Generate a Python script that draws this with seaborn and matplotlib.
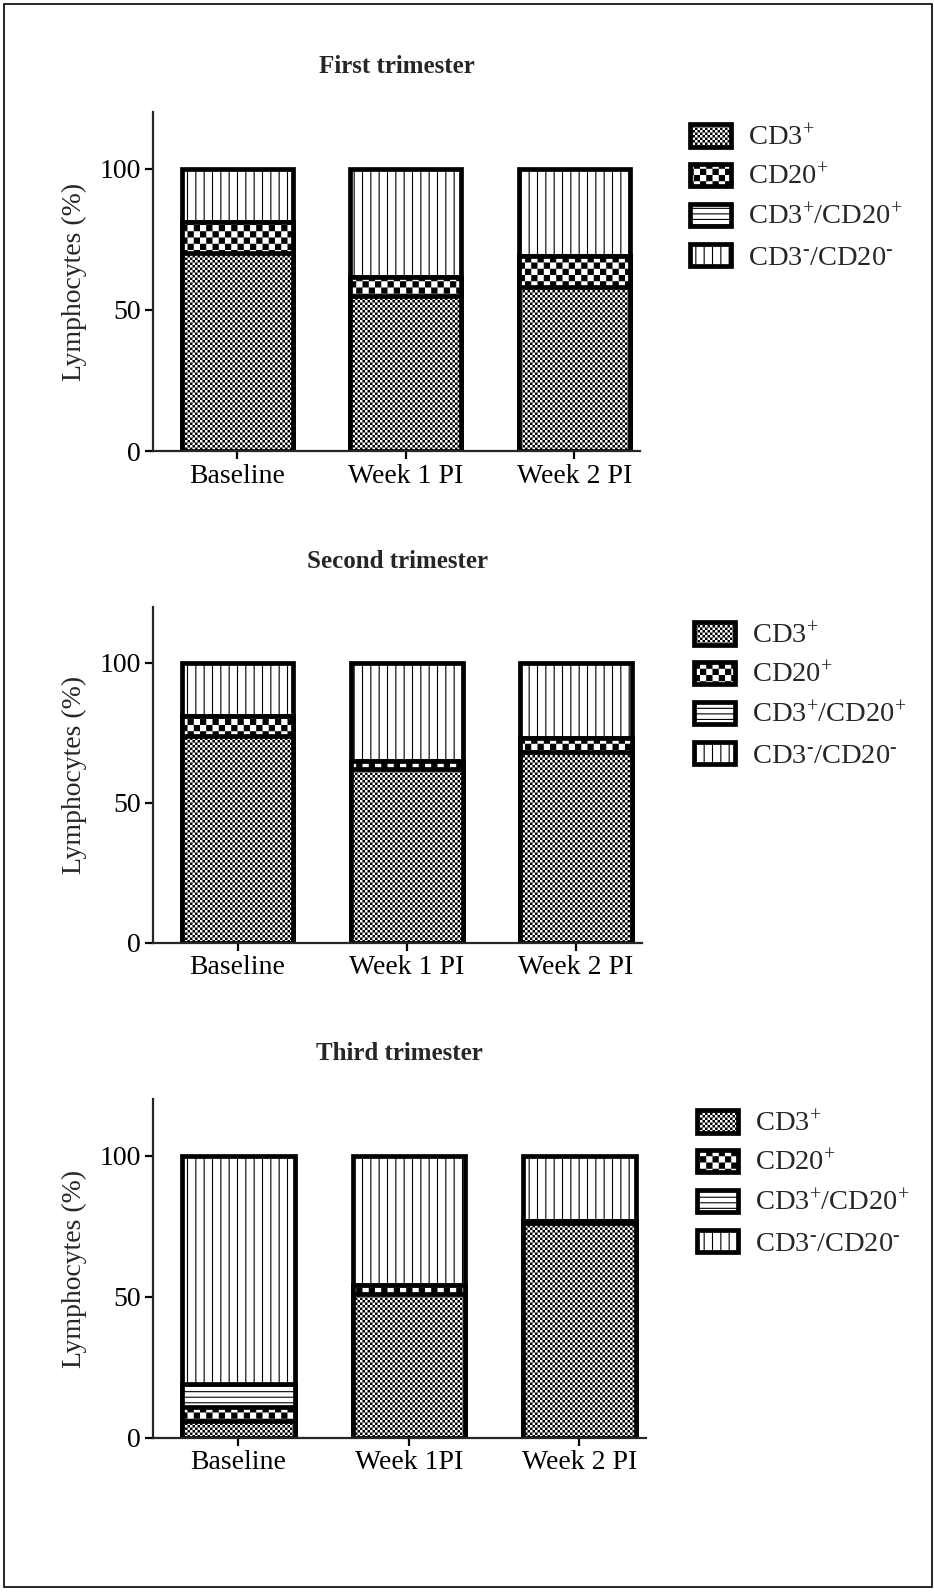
import numpy as np
import matplotlib
matplotlib.use("Agg")
import matplotlib.pyplot as plt
import matplotlib.hatch as mhatch
from matplotlib.path import Path
from matplotlib.patches import Patch, Rectangle
import seaborn as sns

# ---------------------------------------------------------------- data
panel_titles = ["First trimester", "Second trimester", "Third trimester"]
time_labels_1 = ["Baseline", "Week 1 PI", "Week 2 PI"]
time_labels_2 = ["Baseline", "Week 1 PI", "Week 2 PI"]
time_labels_3 = ["Baseline", "Week 1PI", "Week 2 PI"]

# lymphocyte subsets (% of lymphocytes)
cd3_first = [70, 55, 58]
cd20_first = [11, 6.5, 11]
dp_first = [0, 0, 0]
dn_first = [19, 38.5, 31]

cd3_second = [74, 62, 68]
cd20_second = [7, 3, 5]
dp_second = [0, 0, 0]
dn_second = [19, 35, 27]

cd3_third = [6, 51, 76]
cd20_third = [5, 3, 1]
dp_third = [8, 0, 0]
dn_third = [81, 46, 23]

series_labels = [r"CD3$^{+}$", r"CD20$^{+}$", r"CD3$^{+}$/CD20$^{+}$",
                 r"CD3$^{\text{-}}$/CD20$^{\text{-}}$"]
yticks = [0, 50, 100]

# ---------------------------------------------------------------- style
sns.set_style("ticks")
plt.rcParams["font.family"] = ["Liberation Serif", "DejaVu Serif"]
plt.rcParams["mathtext.fontset"] = "custom"
plt.rcParams["mathtext.rm"] = "Liberation Serif"
plt.rcParams["mathtext.it"] = "Liberation Serif:italic"
plt.rcParams["mathtext.bf"] = "Liberation Serif:bold"
HATCH_LW = 0.8
plt.rcParams["hatch.linewidth"] = HATCH_LW
plt.rcParams["hatch.color"] = "black"

DPI = 100


# checkerboard fill patterns: 'o' = fine checker, 'O' = coarse checker
class _Checker(mhatch.HatchPatternBase):
    char = "o"
    cells = 40

    def __init__(self, hatch, density):
        reps = hatch.count(self.char)
        self.n = reps * self.cells
        self.num_vertices = (self.n * self.n // 2) * 5

    def set_vertices_and_codes(self, vertices, codes):
        n = self.n
        s = 1.0 / n
        # shrink squares so the hatch stroke does not swallow the white cells
        d = 0.5 * HATCH_LW / 72.0
        k = 0
        for i in range(n):
            for j in range(n):
                if (i + j) % 2:
                    continue
                x0, y0 = i * s + d, j * s + d
                x1, y1 = (i + 1) * s - d, (j + 1) * s - d
                vertices[k:k + 5] = [(x0, y0), (x1, y0), (x1, y1), (x0, y1), (x0, y0)]
                codes[k:k + 5] = [Path.MOVETO, Path.LINETO, Path.LINETO,
                                  Path.LINETO, Path.CLOSEPOLY]
                k += 5


class FineChecker(_Checker):
    char = "o"
    cells = 40


class CoarseChecker(_Checker):
    char = "O"
    cells = 16


mhatch._hatch_types = [t for t in mhatch._hatch_types
                       if t not in (mhatch.SmallCircles, mhatch.LargeCircles)]
mhatch._hatch_types += [FineChecker, CoarseChecker]

hatches = ["o", "O", "---", "||"]

fig = plt.figure(figsize=(9.34, 15.92), dpi=DPI)

panels = [
    (panel_titles[0], time_labels_1, cd3_first, cd20_first, dp_first, dn_first,
     [0.1638, 0.7167, 0.5214, 0.2129], (690 / 934, 1 - 124 / 1592)),
    (panel_titles[1], time_labels_2, cd3_second, cd20_second, dp_second, dn_second,
     [0.1638, 0.4078, 0.5236, 0.2111], (694 / 934, 1 - 622 / 1592)),
    (panel_titles[2], time_labels_3, cd3_third, cd20_third, dp_third, dn_third,
     [0.1638, 0.0969, 0.5278, 0.2126], (697 / 934, 1 - 1110 / 1592)),
]

for title, cats, cd3, cd20, dp, dn, rect, leg_xy in panels:
    ax = fig.add_axes(rect)
    layers = [np.array(cd3, float), np.array(cd20, float),
              np.array(dp, float), np.array(dn, float)]
    cum = np.cumsum(layers, axis=0)
    # stacked bars drawn as overlapping cumulative bars, tallest first
    for k in range(3, -1, -1):
        sns.barplot(x=cats, y=cum[k], order=cats, ax=ax, color="white",
                    edgecolor="black", linewidth=3.4, hatch=hatches[k],
                    width=0.66, errorbar=None, saturation=1)
    ax.set_xlim(-0.5, 2.39)
    ax.set_ylim(0, 120)
    ax.set_yticks(yticks)
    sns.despine(ax=ax)
    for side in ("left", "bottom"):
        ax.spines[side].set_linewidth(1.6)
    ax.tick_params(axis="both", direction="out", length=6, width=1.6,
                   labelsize=20, pad=3, colors="black")
    ax.set_ylabel("Lymphocytes (%)", fontsize=20, labelpad=9)
    ax.set_xlabel("")
    ax.set_title(title, fontsize=18, fontweight="bold", pad=28)

    handles = [Patch(facecolor="white", edgecolor="black", hatch=h,
                     linewidth=3.4, joinstyle="round") for h in hatches]
    ax.legend(handles, series_labels, loc="upper left", bbox_to_anchor=leg_xy,
              bbox_transform=fig.transFigure, frameon=False, fontsize=20.5,
              borderpad=0, borderaxespad=0, handlelength=1.44,
              handleheight=0.84, handletextpad=0.6, labelspacing=0.45)

fig.patches.append(Rectangle((0.0043, 0.0031), 0.9936, 0.9944,
                             transform=fig.transFigure, fill=False,
                             edgecolor="black", linewidth=1.2))

fig.savefig("out.png", dpi=DPI)
